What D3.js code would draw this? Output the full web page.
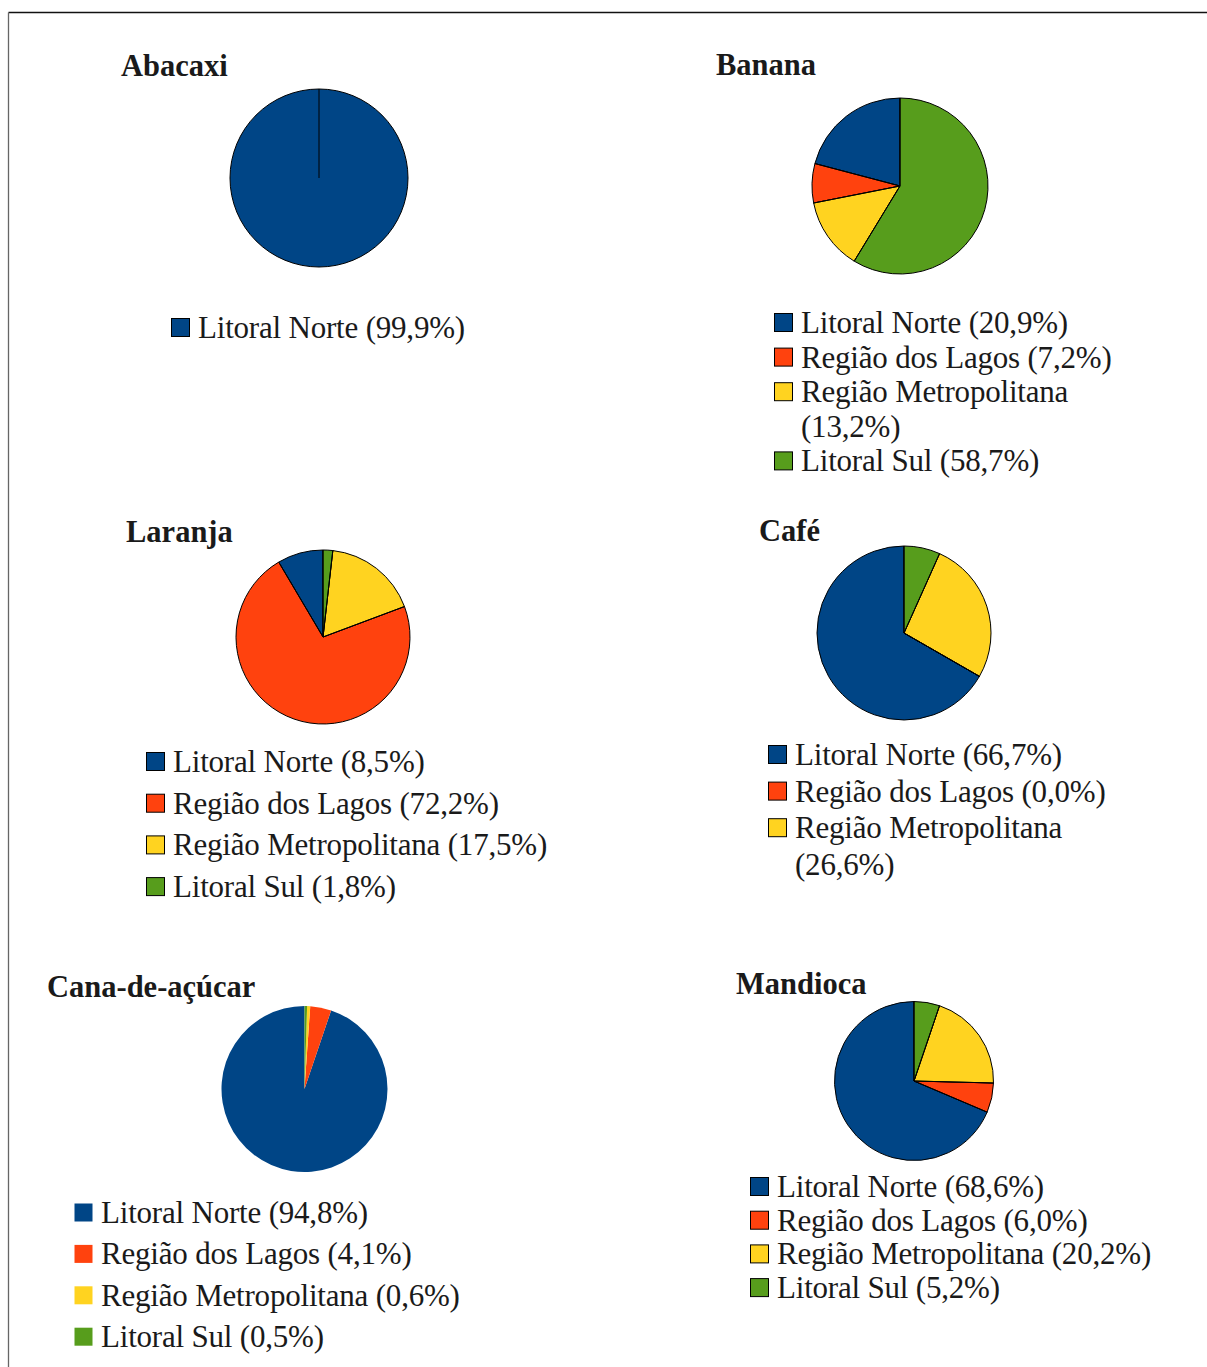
<!DOCTYPE html>
<html>
<head>
<meta charset="utf-8">
<script src="https://cdn.jsdelivr.net/npm/d3@7"></script>
<style>
  body { margin: 0; background: #fff; }
  svg { display: block; }
  text { font-family: "Liberation Serif", "Times New Roman", serif; fill: #1a1a1a; }
</style>
</head>
<body>
<div id="chart"></div>
<script>
// regions (legend order) and the palette used in the original
var regions = ["Litoral Norte", "Região dos Lagos", "Região Metropolitana", "Litoral Sul"];
var regionColors = ["#004586", "#ff420e", "#ffd320", "#579d1c"];

var crops = ["Abacaxi", "Banana", "Laranja", "Café", "Cana-de-açúcar", "Mandioca"];

// percentages per region, same order as regions
var abacaxiValues = [99.9];
var bananaValues = [20.9, 7.2, 13.2, 58.7];
var laranjaValues = [8.5, 72.2, 17.5, 1.8];
var cafeValues = [66.7, 0.0, 26.6, 6.7];
var canaValues = [94.8, 4.1, 0.6, 0.5];
var mandiocaValues = [68.6, 6.0, 20.2, 5.2];

var cropValues = [abacaxiValues, bananaValues, laranjaValues, cafeValues, canaValues, mandiocaValues];
var legendShown = [1, 4, 4, 3, 4, 4];

// layout of each panel
var layout = [
  { tx: 121, ty: 76,  cx: 319, cy: 178,  r: 89, lx: 171, ly: 338,  step: 35,   outline: true },
  { tx: 716, ty: 75,  cx: 900, cy: 186,  r: 88, lx: 774, ly: 333,  step: 34.6, outline: true },
  { tx: 126, ty: 542, cx: 323, cy: 637,  r: 87, lx: 146, ly: 772,  step: 41.7, outline: true },
  { tx: 759, ty: 541, cx: 904, cy: 633,  r: 87, lx: 768, ly: 765,  step: 36.6, outline: true },
  { tx: 47,  ty: 997, cx: 304.5, cy: 1089, r: 83, lx: 74, ly: 1223, step: 41.4, outline: false },
  { tx: 736, ty: 994, cx: 914, cy: 1081, r: 79.5, lx: 750, ly: 1197, step: 33.7, outline: true }
];

var W = 1207, H = 1367;
var legendRight = 1158;
var legendSize = 31;

var svg = d3.select('#chart').append('svg')
  .attr('width', W)
  .attr('height', H);

// outer frame (top + left only, the rest is cut off)
svg.append('line').attr('x1', 8.5).attr('y1', 12.5).attr('x2', W).attr('y2', 12.5)
  .attr('stroke', '#111').attr('stroke-width', 1.3);
svg.append('line').attr('x1', 8.5).attr('y1', 12.5).attr('x2', 8.5).attr('y2', H)
  .attr('stroke', '#666').attr('stroke-width', 1.3);

var pie = d3.pie().sort(null).startAngle(0).endAngle(-2 * Math.PI);

function fmt(v) {
  return v.toFixed(1).replace('.', ',') + '%';
}

crops.forEach(function(crop, k) {
  var L = layout[k];
  var values = cropValues[k];

  var g = svg.append('g').attr('class', 'panel');

  g.append('text')
    .attr('x', L.tx).attr('y', L.ty)
    .attr('font-size', 30.5).attr('font-weight', 'bold')
    .text(crop);

  var arc = d3.arc().innerRadius(0).outerRadius(L.r);
  var arcs = pie(values);

  var pg = g.append('g').attr('transform', 'translate(' + L.cx + ',' + L.cy + ')');

  pg.selectAll('path.slice')
    .data(arcs)
    .enter().append('path')
    .attr('class', 'slice')
    .attr('d', arc)
    .attr('fill', function(d, i) { return regionColors[i]; })
    .attr('stroke', L.outline ? '#000' : 'none')
    .attr('stroke-width', 1)
    .attr('stroke-linejoin', 'round');

  if (L.outline) {
    // slice borders from the centre
    pg.selectAll('line.edge')
      .data(arcs)
      .enter().append('line')
      .attr('class', 'edge')
      .attr('x1', 0).attr('y1', 0)
      .attr('x2', function(d) { return L.r * Math.sin(d.startAngle); })
      .attr('y2', function(d) { return -L.r * Math.cos(d.startAngle); })
      .attr('stroke', '#000').attr('stroke-width', 1);
  }

  // legend
  var lg = g.append('g');
  var y = L.ly;
  for (var i = 0; i < legendShown[k]; i++) {
    lg.append('rect')
      .attr('x', L.lx + 0.5).attr('y', y - 19.5)
      .attr('width', 18).attr('height', 18)
      .attr('fill', regionColors[i])
      .attr('stroke', L.outline ? '#000' : 'none')
      .attr('stroke-width', 1);

    var label = regions[i] + ' (' + fmt(values[i]) + ')';
    var t = lg.append('text')
      .attr('x', L.lx + 27).attr('y', y)
      .attr('font-size', legendSize)
      .attr('letter-spacing', -0.2)
      .text(label);
    if (L.lx + 27 + t.node().getComputedTextLength() > legendRight) {
      t.text(regions[i]);
      y += L.step;
      lg.append('text')
        .attr('x', L.lx + 27).attr('y', y)
        .attr('font-size', legendSize)
        .attr('letter-spacing', -0.2)
        .text('(' + fmt(values[i]) + ')');
    }
    y += L.step;
  }
});
</script>
</body>
</html>
